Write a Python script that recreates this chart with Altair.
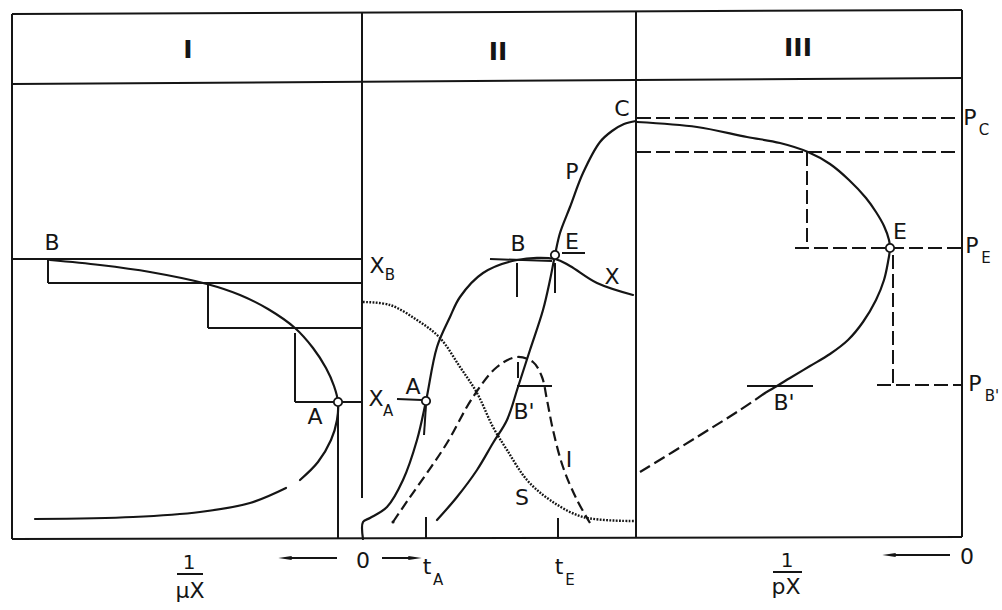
import altair as alt
import pandas as pd

W, H = 1002, 610
INK = "#151515"

# ---- straight solid segments (x1, y1, x2, y2) ----
frame_segments = [
    (12, 14, 962, 10),     # top border
    (12, 84, 962, 78),     # header separator
    (12, 539, 962, 537),   # bottom border
    (12, 14, 12, 539),     # left border
    (962, 10, 962, 537),   # right border
    (362, 13, 362, 498),   # divider I | II
    (636, 11, 636, 538),   # divider II | III
]

stair_segments = [
    (12, 259, 362, 259),   # X_B level
    (48, 259, 48, 283),
    (48, 283, 362, 283),
    (208, 283, 208, 328),
    (208, 328, 362, 328),
    (295, 333, 295, 402),
    (295, 402, 362, 402),  # X_A level
    (338, 406, 338, 539),  # drop from A
]

tick_segments = [
    (397, 399, 422, 400),  # A (time course)
    (426, 405, 424, 435),
    (490, 259, 552, 261),  # B
    (517, 263, 517, 297),
    (562, 253, 585, 253),  # E
    (555, 263, 555, 293),
    (517, 386, 552, 386),  # B'
    (518, 362, 518, 378),
    (426, 517, 426, 539),  # t_A
    (558, 518, 558, 539),  # t_E
    (747, 386, 813, 386),  # B' (panel III)
    (177, 574, 203, 574),  # fraction bar 1/uX
    (773, 572, 802, 572),  # fraction bar 1/pX
    (285, 558, 337, 558),  # arrow shafts
    (382, 558, 412, 558),
    (889, 555, 950, 555),
]

# ---- dashed construction lines in panel III ----
dashed_segments = [
    (637, 118, 955, 118),  # P_C
    (637, 152, 960, 152),
    (807, 152, 807, 248),
    (795, 248, 962, 248),  # P_E
    (893, 255, 893, 385),
    (877, 385, 962, 385),  # P_B'
]

# ---- curves ----
# panel I: 1/(mu X) against X
cur_I_upper_x = [50, 100, 150, 207, 240, 268, 295, 313, 326, 334, 338, 337, 331, 318, 300]
cur_I_upper_y = [260, 265, 272, 284, 295, 309, 328, 348, 368, 386, 402, 420, 440, 462, 480]
cur_I_lower_x = [286, 250, 200, 133, 35]
cur_I_lower_y = [488, 503, 512, 517, 519]

# panel II: biomass X, product P, inducer I, substrate S against time
biomass_x = [363, 363, 370, 387, 403, 417, 426, 437, 450, 460, 483, 517, 555, 570, 597, 633]
biomass_y = [539, 522, 518, 507, 480, 440, 401, 347, 317, 297, 273, 260, 259, 266, 283, 295]
product_x = [437, 457, 477, 493, 507, 518, 530, 543, 550, 555, 560, 570, 583, 600, 612, 624, 636]
product_y = [520, 497, 470, 443, 420, 387, 350, 310, 280, 255, 233, 207, 173, 142, 131, 124, 121]
inducer_x = [393, 408, 427, 447, 473, 497, 517, 533, 542, 547, 553, 563, 577, 590]
inducer_y = [522, 500, 473, 443, 397, 367, 357, 362, 377, 400, 430, 467, 500, 523]
substrate_x = [363, 390, 417, 440, 460, 477, 493, 507, 527, 550, 583, 637]
substrate_y = [302, 305, 320, 338, 367, 393, 427, 450, 480, 500, 517, 521]

# panel III: 1/(p X) against P
cur_III_solid_x = [637, 697, 747, 780, 808, 830, 849, 866, 876, 884, 889, 890,
                   888, 884, 876, 863, 848, 830, 810, 790, 777, 765]
cur_III_solid_y = [122, 127, 137, 143, 152, 164, 180, 198, 212, 226, 240, 248,
                   262, 280, 300, 322, 340, 354, 366, 378, 386, 393]
cur_III_dash_x = [765, 740, 697, 640]
cur_III_dash_y = [393, 410, 437, 472]

# ---- marked points ----
ring_x = [338, 426, 555, 890]
ring_y = [402, 401, 255, 248]

# ---- arrow heads ----
head_left_x = [285, 889]
head_left_y = [558, 555]
head_right_x = [415]
head_right_y = [558]

# ---- labels (text, x, y, size) ----
numerals = [("I", 188, 50), ("II", 498, 52), ("III", 798, 48)]
labels = [
    ("B", 52, 243, 22), ("A", 315, 417, 22),
    ("X", 377, 266, 22), ("B", 390, 275, 15),
    ("X", 376, 399, 22), ("A", 388, 411, 15),
    ("A", 413, 387, 22), ("B", 518, 244, 22), ("E", 572, 242, 22),
    ("X", 612, 277, 22), ("P", 572, 172, 22), ("C", 622, 109, 22),
    ("B'", 524, 412, 22), ("I", 569, 460, 22), ("S", 522, 498, 22),
    ("E", 900, 232, 22), ("B'", 784, 403, 22),
    ("P", 970, 118, 22), ("C", 984, 130, 15),
    ("P", 972, 246, 22), ("E", 986, 258, 15),
    ("P", 975, 384, 22), ("B'", 992, 396, 15),
    ("0", 363, 561, 22), ("0", 967, 557, 22),
    ("t", 427, 567, 22), ("A", 438, 580, 15),
    ("t", 559, 567, 22), ("E", 570, 580, 15),
    ("1", 189, 563, 20), ("\u03bcX", 190, 591, 22),
    ("1", 787, 561, 20), ("pX", 786, 587, 22),
]


def seg_frame(segs):
    return pd.DataFrame(segs, columns=["x", "y", "x2", "y2"])


def curve_frame(named):
    rows = []
    for name, xs, ys in named:
        for i, (xv, yv) in enumerate(zip(xs, ys)):
            rows.append({"curve": name, "i": i, "x": xv, "y": yv})
    return pd.DataFrame(rows)


X = alt.X("x:Q", scale=alt.Scale(domain=[0, W], nice=False, zero=False), axis=None)
Y = alt.Y("y:Q", scale=alt.Scale(domain=[H, 0], nice=False, zero=False), axis=None)


def rules(segs, width=2.0, dash=None):
    kw = dict(color=INK, strokeWidth=width, strokeCap="butt")
    if dash:
        kw["strokeDash"] = dash
    return alt.Chart(seg_frame(segs)).mark_rule(**kw).encode(
        x=X, y=Y, x2="x2:Q", y2="y2:Q")


def curves(named, width=2.2, dash=None, cap="round"):
    kw = dict(color=INK, strokeWidth=width, interpolate="catmull-rom", strokeCap=cap)
    if dash:
        kw["strokeDash"] = dash
    return alt.Chart(curve_frame(named)).mark_line(**kw).encode(
        x=X, y=Y, detail="curve:N", order="i:Q")


solid_curves = curves([
    ("I_upper", cur_I_upper_x, cur_I_upper_y),
    ("I_lower", cur_I_lower_x, cur_I_lower_y),
    ("X", biomass_x, biomass_y),
    ("P", product_x, product_y),
    ("III", cur_III_solid_x, cur_III_solid_y),
])
inducer_curve = curves([("I", inducer_x, inducer_y)], dash=[10, 5], cap="butt")
substrate_curve = curves([("S", substrate_x, substrate_y)], width=2.4, dash=[1.8, 1.4], cap="butt")
panel3_dash = curves([("III_dash", cur_III_dash_x, cur_III_dash_y)], dash=[12, 5], cap="butt")

rings = alt.Chart(pd.DataFrame({"x": ring_x, "y": ring_y})).mark_point(
    shape="circle", size=70, filled=False, stroke=INK, strokeWidth=1.8,
    fill="white", fillOpacity=1).encode(x=X, y=Y)

start_dot = alt.Chart(pd.DataFrame({"x": [inducer_x[0]], "y": [inducer_y[0]]})).mark_point(
    shape="circle", size=10, filled=True, color=INK, opacity=1).encode(x=X, y=Y)

head_left = alt.Chart(pd.DataFrame({"x": head_left_x, "y": head_left_y})).mark_point(
    shape="M-1,0L1,-0.28L1,0.28Z", size=180, filled=True, color=INK, opacity=1
).encode(x=X, y=Y)
head_right = alt.Chart(pd.DataFrame({"x": head_right_x, "y": head_right_y})).mark_point(
    shape="M1,0L-1,-0.28L-1,0.28Z", size=180, filled=True, color=INK, opacity=1
).encode(x=X, y=Y)

numeral_text = alt.Chart(pd.DataFrame(numerals, columns=["t", "x", "y"])).mark_text(
    font="DejaVu Sans", fontWeight="bold", fontSize=25, color=INK, baseline="middle",
    align="center").encode(x=X, y=Y, text="t:N")

label_text = alt.Chart(pd.DataFrame(labels, columns=["t", "x", "y", "s"])).mark_text(
    font="DejaVu Sans", color=INK, baseline="middle", align="center").encode(
    x=X, y=Y, text="t:N", size=alt.Size("s:Q", scale=None))

chart = alt.layer(
    rules(frame_segments),
    rules(stair_segments),
    rules(tick_segments),
    rules(dashed_segments, dash=[14, 5]),
    solid_curves,
    inducer_curve,
    substrate_curve,
    panel3_dash,
    start_dot,
    head_left,
    head_right,
    rings,
    numeral_text,
    label_text,
).properties(
    width=W, height=H, padding=0, background="white",
    autosize=alt.AutoSizeParams(type="none"),
).configure_view(stroke=None)

chart.save("out.html", embed_options={"renderer": "svg", "actions": False})
